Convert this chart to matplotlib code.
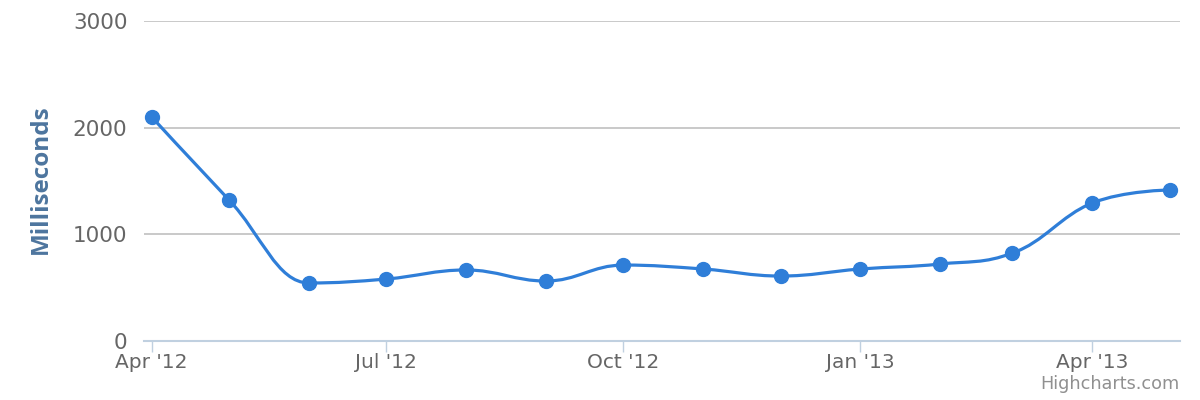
import numpy as np
import matplotlib
matplotlib.use("Agg")
import matplotlib.pyplot as plt
import matplotlib.dates as mdates
from matplotlib.path import Path
from matplotlib.patches import PathPatch
from datetime import date, timedelta

# data: monthly response time
months = [date(2012, m, 1) for m in range(4, 13)] + [date(2013, m, 1) for m in range(1, 6)]
values = [2100, 1322, 544, 581, 666, 562, 712, 675, 609, 675, 722, 825, 1294, 1416]
tick_dates = [date(2012, 4, 1), date(2012, 7, 1), date(2012, 10, 1), date(2013, 1, 1), date(2013, 4, 1)]
tick_labels = ["Apr '12", "Jul '12", "Oct '12", "Jan '13", "Apr '13"]

LINE = '#2f7ed8'
GRID = '#c0c0c0'
AXIS = '#c0d0e0'
LABEL = '#666666'


def spline_path(xs, ys, smoothing=1.5):
    # Highcharts-style spline: cubic bezier with smoothed control points
    denom = smoothing + 1
    n = len(xs)
    left = [(xs[i], ys[i]) for i in range(n)]
    right = [(xs[i], ys[i]) for i in range(n)]
    for i in range(1, n - 1):
        px, py = xs[i], ys[i]
        lx, ly = xs[i - 1], ys[i - 1]
        nx, ny = xs[i + 1], ys[i + 1]
        lcx = (smoothing * px + lx) / denom
        lcy = (smoothing * py + ly) / denom
        rcx = (smoothing * px + nx) / denom
        rcy = (smoothing * py + ny) / denom
        if rcx != lcx:
            corr = ((rcy - lcy) * (rcx - px)) / (rcx - lcx) + py - rcy
            lcy += corr
            rcy += corr
        if lcy > ly and lcy > py:
            lcy = max(ly, py)
            rcy = 2 * py - lcy
        elif lcy < ly and lcy < py:
            lcy = min(ly, py)
            rcy = 2 * py - lcy
        if rcy > ny and rcy > py:
            rcy = max(ny, py)
            lcy = 2 * py - rcy
        elif rcy < ny and rcy < py:
            rcy = min(ny, py)
            lcy = 2 * py - rcy
        left[i] = (lcx, lcy)
        right[i] = (rcx, rcy)
    verts = [(xs[0], ys[0])]
    codes = [Path.MOVETO]
    for i in range(1, n):
        verts += [right[i - 1], left[i], (xs[i], ys[i])]
        codes += [Path.CURVE4] * 3
    return Path(verts, codes)


x = mdates.date2num(months)

fig = plt.figure(figsize=(12, 4), dpi=100)
ax = fig.add_axes([0.12, 0.1475, 0.8633, 0.80])

ax.set_xlim(mdates.date2num(date(2012, 4, 1) - timedelta(days=3.5)),
            mdates.date2num(date(2013, 5, 1) + timedelta(days=4.3)))
ax.set_ylim(0, 3000)

ax.add_patch(PathPatch(spline_path(x, values), facecolor='none', edgecolor=LINE,
                       linewidth=2.3, capstyle='round', joinstyle='round', zorder=3))
ax.plot(x, values, 'o', color=LINE, markersize=10, zorder=4)

ax.set_yticks([0, 1000, 2000, 3000])
ax.yaxis.grid(True, color=GRID, linewidth=1.2)
ax.set_axisbelow(True)
ax.tick_params(axis='y', length=0, pad=12, labelsize=15.5, labelcolor=LABEL)

ax.set_xticks(mdates.date2num(tick_dates))
ax.set_xticklabels(tick_labels)
ax.tick_params(axis='x', length=8, width=1, color=AXIS, pad=1, labelsize=14.5, labelcolor=LABEL)

for s in ['top', 'right', 'left']:
    ax.spines[s].set_visible(False)
ax.spines['bottom'].set_color(AXIS)
ax.spines['bottom'].set_linewidth(1.5)

ax.set_ylabel('Milliseconds', fontsize=17.5, fontweight='bold', color='#4d759e',
              family='Open Sans')
ax.yaxis.set_label_coords(-0.088, 0.505)

fig.text(0.983, 0.028, 'Highcharts.com', ha='right', va='baseline', fontsize=12.7, color='#909090')

fig.savefig('out.png', dpi=100)
